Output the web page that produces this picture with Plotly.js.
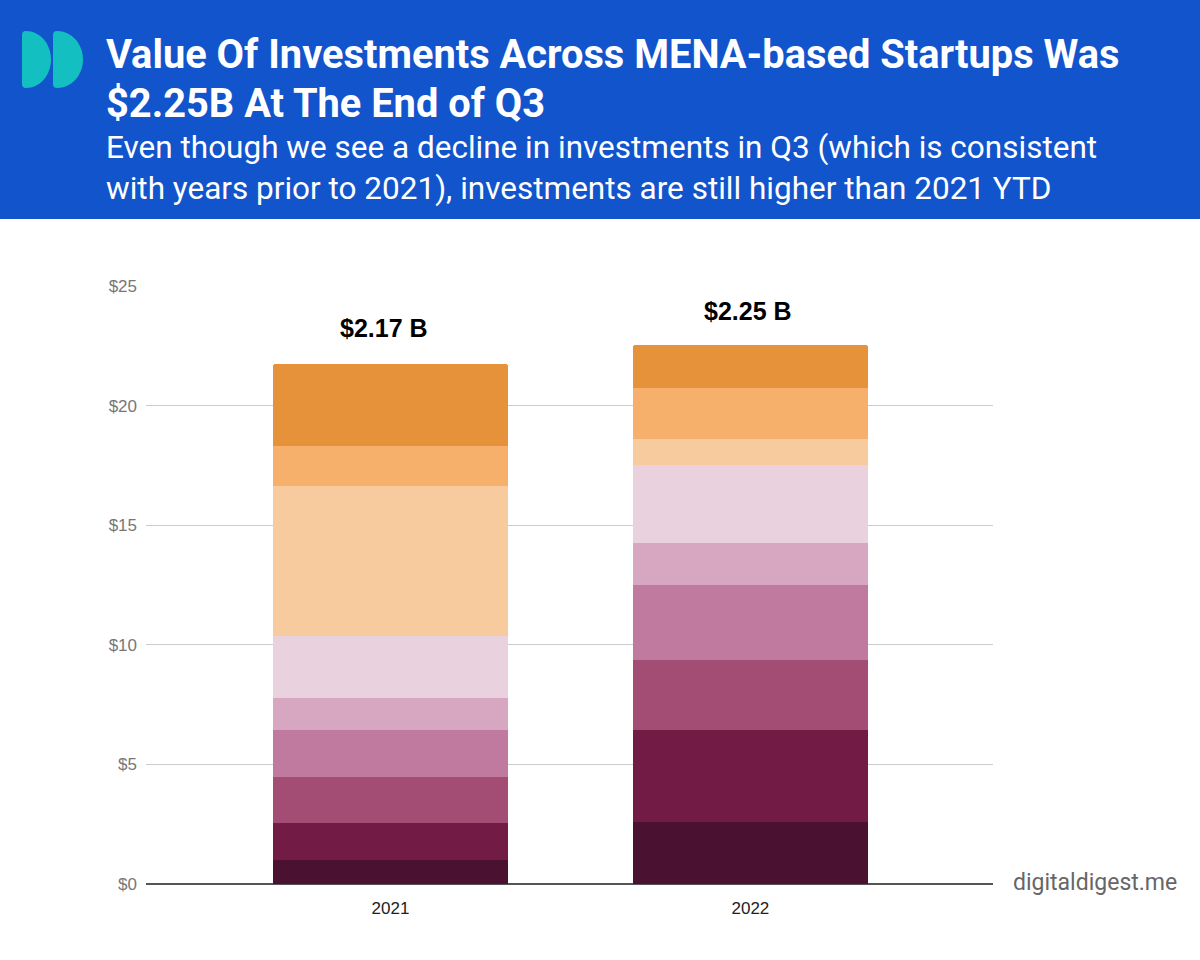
<!DOCTYPE html>
<html>
<head>
<meta charset="utf-8">
<script src="https://cdn.plot.ly/plotly-3.0.1.min.js"></script>
<style>
  html, body { margin: 0; padding: 0; background: #ffffff; }
  #chart { width: 1200px; height: 960px; }
</style>
</head>
<body>
<div id="chart"></div>
<script>
// ---- data ----
const years = ["2021", "2022"];
const months = ["Jan", "Feb", "Mar", "Apr", "May", "Jun", "Jul", "Aug", "Sep"];
const values2021 = [1.02, 1.55, 1.92, 1.96, 1.34, 2.59, 6.27, 1.67, 3.42];
const values2022 = [2.59, 3.85, 2.92, 3.14, 1.76, 3.26, 1.08, 2.14, 1.79];
const totalLabels = ["$2.17 B", "$2.25 B"];
const colors = ["#4a1230", "#721b45", "#a34d74", "#c07aa0", "#d7a6c1",
                "#e9d1de", "#f8cb9f", "#f6b06c", "#e6923a"];
const titleLines = ["Value Of Investments Across MENA-based Startups Was",
                    "$2.25B At The End of Q3"];
const subtitleLines = ["Even though we see a decline in investments in Q3 (which is consistent",
                       "with years prior to 2021), investments are still higher than 2021 YTD"];
const watermark = "digitaldigest.me";

// ---- layout geometry ----
const W = 1200, H = 960;
const ml = 146, mr = 207, mt = 286, mb = 76;
const pw = W - ml - mr, ph = H - mt - mb;
const px = x => (x - ml) / pw;
const py = y => (H - mb - y) / ph;

const traces = months.map((m, i) => ({
  type: "bar",
  name: m,
  x: years,
  y: [values2021[i], values2022[i]],
  width: 0.653,
  marker: { color: colors[i], line: { width: 0 } },
  hoverinfo: "x+y+name"
}));

const totals = years.map((_, j) => (j === 0 ? values2021 : values2022).reduce((a, b) => a + b, 0));

function dShape(x0, x1, y0, y1) {
  const r = 4;
  const ym = (y0 + y1) / 2, hh = (y1 - y0) / 2;
  const a = x0 + r, w = x1 - a, k = 0.552;
  const P = (x, y) => px(x).toFixed(5) + "," + py(y).toFixed(5);
  return "M" + P(a, y0) +
    " C" + P(a + k * w, y0) + " " + P(x1, ym - k * hh) + " " + P(x1, ym) +
    " C" + P(x1, ym + k * hh) + " " + P(a + k * w, y1) + " " + P(a, y1) +
    " Q" + P(x0, y1) + " " + P(x0, y1 - r) +
    " L" + P(x0, y0 + r) +
    " Q" + P(x0, y0) + " " + P(a, y0) + " Z";
}

const shapes = [
  { type: "rect", xref: "paper", yref: "paper", x0: px(0), x1: px(W), y0: py(219), y1: py(0),
    fillcolor: "#1254CC", line: { width: 0 }, layer: "below" },
  { type: "path", xref: "paper", yref: "paper", path: dShape(22, 51, 31, 88),
    fillcolor: "#13BFC0", line: { width: 0 } },
  { type: "path", xref: "paper", yref: "paper", path: dShape(53, 83, 31, 88),
    fillcolor: "#13BFC0", line: { width: 0 } }
];

const titleFont = { family: "Roboto, sans-serif", size: 39.8, color: "#ffffff", weight: 700 };
const subFont = { family: "Roboto, sans-serif", size: 31.5, color: "#ffffff" };

const annotations = [
  { xref: "paper", yref: "paper", x: px(104), y: py(54), xanchor: "left", yanchor: "middle",
    text: titleLines[0], showarrow: false, font: titleFont },
  { xref: "paper", yref: "paper", x: px(104), y: py(103), xanchor: "left", yanchor: "middle",
    text: titleLines[1], showarrow: false, font: titleFont },
  { xref: "paper", yref: "paper", x: px(104), y: py(148), xanchor: "left", yanchor: "middle",
    text: subtitleLines[0], showarrow: false, font: subFont },
  { xref: "paper", yref: "paper", x: px(104), y: py(188), xanchor: "left", yanchor: "middle",
    text: subtitleLines[1], showarrow: false, font: subFont },
  { xref: "paper", yref: "paper", x: px(1011), y: py(882), xanchor: "left", yanchor: "middle",
    text: watermark, showarrow: false,
    font: { family: "Roboto, sans-serif", size: 23, color: "#666666" } }
];
const labelShift = [-6, -2];
const labelLift = [20, 18];
years.forEach((yr, j) => {
  annotations.push({
    x: j, y: totals[j], xref: "x", yref: "y", yanchor: "bottom", xanchor: "center",
    xshift: labelShift[j], yshift: labelLift[j], text: totalLabels[j], showarrow: false,
    font: { family: "Liberation Sans, Arial, sans-serif", size: 25, color: "#000000", weight: 700 }
  });
});

const layout = {
  width: W, height: H,
  margin: { l: ml, r: mr, t: mt, b: mb, pad: 0 },
  paper_bgcolor: "#ffffff",
  plot_bgcolor: "#ffffff",
  barmode: "stack",
  barcornerradius: 3,
  showlegend: false,
  xaxis: {
    type: "category",
    range: [-0.679, 1.674],
    showgrid: false, zeroline: false, showline: false, ticks: "",
    ticklabelstandoff: 12,
    tickfont: { family: "Liberation Sans, Arial, sans-serif", size: 17, color: "#222222" },
    fixedrange: true
  },
  yaxis: {
    range: [0, 25],
    dtick: 5, tick0: 0,
    tickprefix: "$",
    showgrid: true, gridcolor: "#cccccc", gridwidth: 1,
    zeroline: true, zerolinecolor: "#555555", zerolinewidth: 2,
    showline: false, ticks: "",
    ticklabelstandoff: 8,
    tickfont: { family: "Liberation Sans, Arial, sans-serif", size: 17, color: "#777777" },
    fixedrange: true
  },
  shapes: shapes,
  annotations: annotations
};

Plotly.newPlot("chart", traces, layout, { displayModeBar: false, staticPlot: true });
</script>
</body>
</html>
